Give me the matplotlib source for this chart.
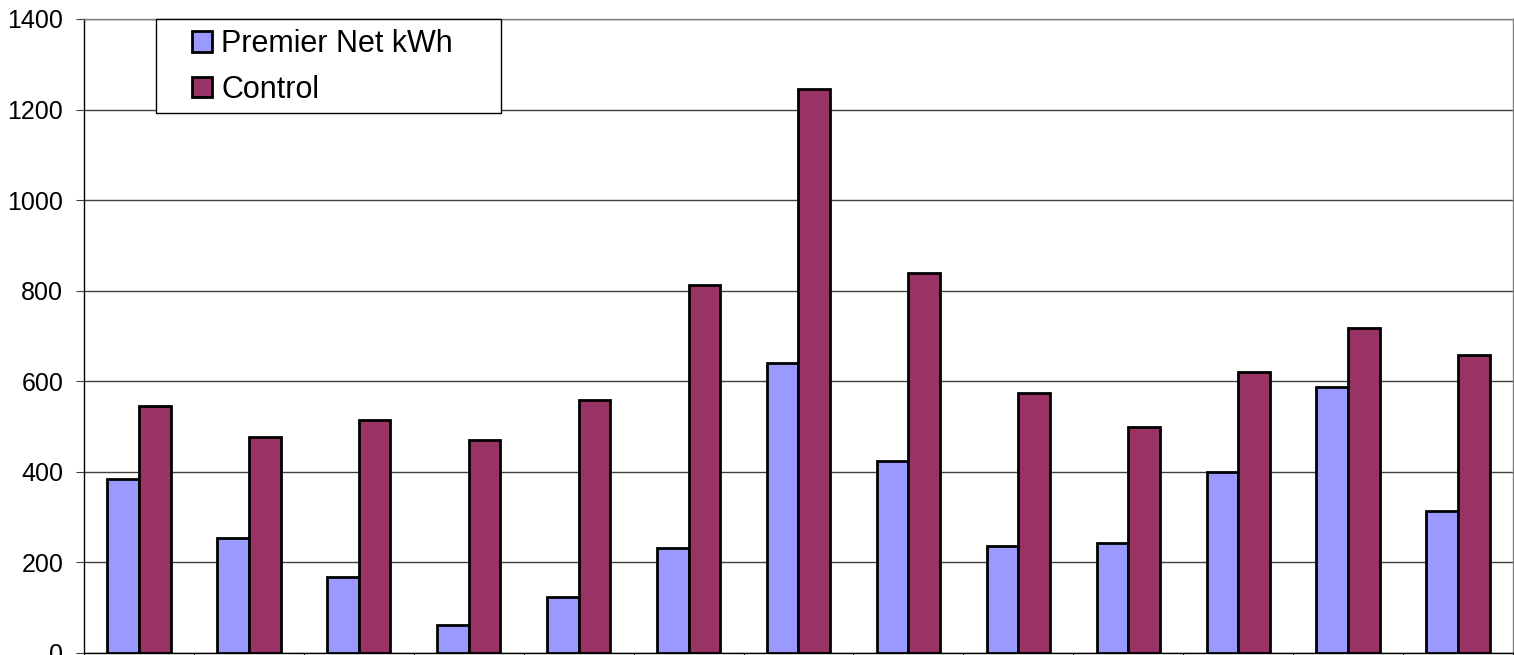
import matplotlib
matplotlib.use("Agg")
import matplotlib.pyplot as plt
from matplotlib.patches import Rectangle
import numpy as np

# -- Data ---------------------------------------------------------------------
categories = list(range(1, 14))
premier = [385, 253, 168, 62, 124, 231, 641, 423, 236, 242, 399, 588, 313]
control = [546, 478, 514, 471, 558, 813, 1246, 840, 575, 498, 620, 718, 657]

BLUE = "#9999FF"
PLUM = "#993366"

plt.rcParams["font.family"] = ["Liberation Sans", "DejaVu Sans"]

W, H = 1514, 655
fig = plt.figure(figsize=(W / 100, H / 100), dpi=100)
ax = fig.add_axes([84 / W, 2 / H, 1429 / W, 634 / H])

x = np.arange(len(categories)) + 0.5
w = 0.288
ax.bar(x - w / 2, premier, width=w, color=BLUE, edgecolor="black",
       linewidth=2.0, label="Premier Net kWh", zorder=3)
ax.bar(x + w / 2, control, width=w, color=PLUM, edgecolor="black",
       linewidth=2.0, label="Control", zorder=3)

ax.set_xlim(0, len(categories))
ax.set_ylim(0, 1400)
ax.set_yticks(range(0, 1401, 200))
ax.set_xticks(np.arange(len(categories) + 1))
ax.set_xticklabels([])
ax.tick_params(axis="y", labelsize=18, length=6, color="#404040", pad=9)
ax.tick_params(axis="x", length=6, color="black")

ax.yaxis.grid(True, color="#404040", linewidth=1.0, zorder=0)
ax.set_axisbelow(True)
for side in ["left", "bottom"]:
    ax.spines[side].set_color("black")
    ax.spines[side].set_linewidth(1.0)
for side in ["top", "right"]:
    ax.spines[side].set_color("#808080")
    ax.spines[side].set_linewidth(1.0)

# -- Legend: frame drawn by hand (x 156..501 px, y 19..113 px) ---------------
frame = Rectangle((156 / W, 1 - 113 / H), 345 / W, 94 / H,
                  transform=fig.transFigure, facecolor="white",
                  edgecolor="black", linewidth=1.0, zorder=10, clip_on=False)
ax.add_patch(frame)

leg = ax.legend(loc="center left",
                bbox_to_anchor=(192 / W, 1 - 67 / H),
                bbox_transform=fig.transFigure,
                fontsize=22, frameon=False, borderaxespad=0, borderpad=0,
                handlelength=0.65, handleheight=0.65, handletextpad=0.3,
                labelspacing=0.52)
leg.set_zorder(11)
for h in leg.legend_handles:
    h.set_linewidth(2.0)

fig.savefig("out.png", dpi=100, facecolor="white")
